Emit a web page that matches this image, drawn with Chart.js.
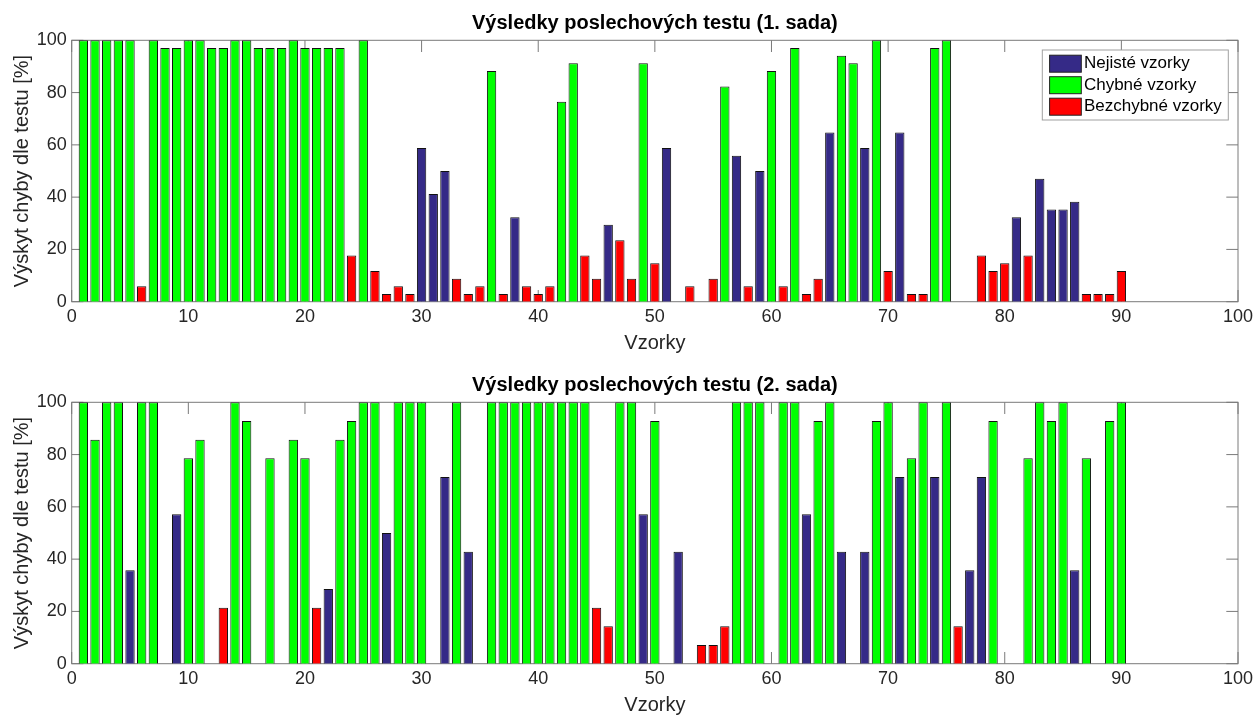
<!DOCTYPE html>
<html>
<head>
<meta charset="utf-8">
<title>Výsledky poslechových testu</title>
<script src="https://cdn.jsdelivr.net/npm/chart.js@4/dist/chart.umd.min.js"></script>
<style>
  html, body { margin: 0; padding: 0; background: #fff; overflow: hidden; }
  canvas { position: absolute; left: 0; }
</style>
</head>
<body>
<canvas id="sada1" width="1255" height="362" style="top:0"></canvas>
<canvas id="sada2" width="1255" height="362" style="top:362px"></canvas>
<script>
// kategorie vzorku (N = nejisté, C = chybné, B = bezchybné, - = bez sloupce)
const kategorie = ['Nejisté vzorky', 'Chybné vzorky', 'Bezchybné vzorky'];
const kody = ['N', 'C', 'B'];
const barvy = ['#352a87', '#00ff00', '#ff0000'];

const tickyX = [0, 10, 20, 30, 40, 50, 60, 70, 80, 90, 100];
const tickyY = [0, 20, 40, 60, 80, 100];

// 1. sada - vyskyt chyby [%] pro vzorky 1..90
const hodnoty1 = [
  100, 100, 100, 100, 100, 5.88, 100, 97.06, 97.06, 100,
  100, 97.06, 97.06, 100, 100, 97.06, 97.06, 97.06, 100, 97.06,
  97.06, 97.06, 97.06, 17.65, 100, 11.76, 2.94, 5.88, 2.94, 58.82,
  41.18, 50, 8.82, 2.94, 5.88, 88.24, 2.94, 32.35, 5.88, 2.94,
  5.88, 76.47, 91.18, 17.65, 8.82, 29.41, 23.53, 8.82, 91.18, 14.71,
  58.82, null, 5.88, null, 8.82, 82.35, 55.88, 5.88, 50, 88.24,
  5.88, 97.06, 2.94, 8.82, 64.71, 94.12, 91.18, 58.82, 100, 11.76,
  64.71, 2.94, 2.94, 97.06, 100, null, null, 17.65, 11.76, 14.71,
  32.35, 17.65, 47.06, 35.29, 35.29, 38.24, 2.94, 2.94, 2.94, 11.76
];
const typy1 = (
  'CCCCCBCCCC' + 'CCCCCCCCCC' + 'CCCBCBBBBN' + 'NNBBBCBNBB' + 'BCCBBNBBCB' +
  'N-B-BCNBNC' + 'BCBBNCCNCB' + 'NBBCC--BBB' + 'NBNNNNBBBB'
).split('');

// 2. sada
const hodnoty2 = [
  100, 85.71, 100, 100, 35.71, 100, 100, null, 57.14, 78.57,
  85.71, null, 21.43, 100, 92.86, null, 78.57, null, 85.71, 78.57,
  21.43, 28.57, 85.71, 92.86, 100, 100, 50, 100, 100, 100,
  null, 71.43, 100, 42.86, null, 100, 100, 100, 100, 100,
  100, 100, 100, 100, 21.43, 14.29, 100, 100, 57.14, 92.86,
  null, 42.86, null, 7.14, 7.14, 14.29, 100, 100, 100, null,
  100, 100, 57.14, 92.86, 100, 42.86, null, 42.86, 92.86, 100,
  71.43, 78.57, 100, 71.43, 100, 14.29, 35.71, 71.43, 92.86, null,
  null, 78.57, 100, 92.86, 100, 35.71, 78.57, null, 92.86, 100
];
const typy2 = (
  'CCCCNCC-NC' + 'C-BCC-C-CC' + 'BNCCCCNCCC' + '-NCN-CCCCC' + 'CCCCBBCCNC' +
  '-N-BBBCCC-' + 'CCNCCN-NCC' + 'NCCNCBNNC-' + '-CCCCNC-CC'
).split('');

Chart.defaults.font.family = '"Liberation Sans", Arial, sans-serif';
Chart.defaults.color = '#262626';

const sloupce = (hodnoty, typy, kod) =>
  hodnoty.map((v, i) => ({ x: i + 1, y: typy[i] === kod ? v : null }));

// ramecek okolo grafu + ticky dovnitr (jako v Matlabu)
const ramecek = {
  id: 'ramecek',
  beforeDatasetsDraw(chart) {
    const { ctx, chartArea: a, scales: { x, y } } = chart;
    const delka = 11.7;
    ctx.save();
    ctx.strokeStyle = '#7a7a7a';
    ctx.lineWidth = 1;
    ctx.beginPath();
    tickyX.forEach(v => {
      const px = x.getPixelForValue(v);
      ctx.moveTo(px, a.bottom); ctx.lineTo(px, a.bottom - delka);
      ctx.moveTo(px, a.top); ctx.lineTo(px, a.top + delka);
    });
    tickyY.forEach(v => {
      const py = y.getPixelForValue(v);
      ctx.moveTo(a.left, py); ctx.lineTo(a.left + delka, py);
      ctx.moveTo(a.right, py); ctx.lineTo(a.right - delka, py);
    });
    ctx.stroke();
    ctx.strokeRect(a.left, a.top, a.right - a.left, a.bottom - a.top);
    ctx.restore();
  }
};

// legenda uvnitr grafu vpravo nahore
const legenda = {
  id: 'legenda',
  afterDraw(chart) {
    const { ctx, chartArea: a } = chart;
    const w = 186, h = 70;
    const x0 = a.right - 9.7 - w, y0 = a.top + 9.7;
    ctx.save();
    ctx.fillStyle = '#fff';
    ctx.fillRect(x0, y0, w, h);
    ctx.strokeStyle = '#a0a0a0';
    ctx.lineWidth = 1;
    ctx.strokeRect(x0, y0, w, h);
    ctx.font = '17px "Liberation Sans", Arial, sans-serif';
    ctx.textBaseline = 'middle';
    chart.data.datasets.forEach((ds, i) => {
      const cy = y0 + 13.7 + i * 21.5;
      ctx.fillStyle = ds.backgroundColor;
      ctx.fillRect(x0 + 7.3, cy - 8.5, 31.7, 17);
      ctx.strokeStyle = '#222';
      ctx.strokeRect(x0 + 7.3, cy - 8.5, 31.7, 17);
      ctx.fillStyle = '#000';
      ctx.fillText(ds.label, x0 + 41.6, cy);
    });
    ctx.restore();
  }
};

function sada(id, nadpis, hodnoty, typy, pluginy) {
  return new Chart(document.getElementById(id), {
    type: 'bar',
    data: {
      datasets: kategorie.map((k, i) => ({
        label: k,
        data: sloupce(hodnoty, typy, kody[i]),
        backgroundColor: barvy[i],
        borderColor: '#111',
        borderWidth: 1,
        barPercentage: 0.8,
        categoryPercentage: 1
      }))
    },
    options: {
      responsive: false,
      animation: false,
      layout: { padding: { left: 0, right: 17, top: 0, bottom: 0 } },
      plugins: {
        legend: { display: false },
        tooltip: { enabled: false },
        title: {
          display: true,
          text: nadpis,
          fullSize: false,
          color: '#000',
          font: { size: 20, weight: 'bold' },
          padding: { top: 11, bottom: 5.3 }
        }
      },
      scales: {
        x: {
          type: 'linear',
          min: 0, max: 100,
          offset: false,
          stacked: true,
          grid: { display: false, drawTicks: false },
          border: { display: false },
          ticks: { stepSize: 10, padding: 5, maxRotation: 0, autoSkip: false, font: { size: 18 } },
          title: { display: true, text: 'Vzorky', font: { size: 20 }, padding: { top: 0, bottom: 7 } },
          afterFit(s) { s.height = 60.3; s.paddingLeft = 0; s.paddingRight = 0; }
        },
        y: {
          min: 0, max: 100,
          grid: { display: false, drawTicks: false },
          border: { display: false },
          ticks: { stepSize: 20, padding: 5, font: { size: 18 } },
          title: { display: true, text: 'Výskyt chyby dle testu [%]', font: { size: 20 }, padding: { top: 10, bottom: 0 } },
          afterFit(s) { s.width = 71.7; }
        }
      }
    },
    plugins: pluginy
  });
}

sada('sada1', 'Výsledky poslechových testu (1. sada)', hodnoty1, typy1, [ramecek, legenda]);
sada('sada2', 'Výsledky poslechových testu (2. sada)', hodnoty2, typy2, [ramecek]);
</script>
</body>
</html>
